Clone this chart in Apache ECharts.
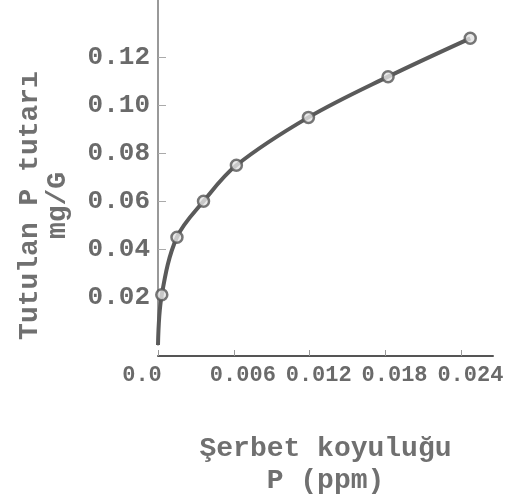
<!DOCTYPE html>
<html>
<head>
<meta charset="utf-8">
<script src="https://cdn.jsdelivr.net/npm/echarts@6/dist/echarts.min.js"></script>
<style>
html,body{margin:0;padding:0;background:#fff;}
#chart{width:509px;height:502px;}
</style>
</head>
<body>
<div id="chart"></div>
<script>
// Data
var concentration = [0.0003, 0.0015, 0.0036, 0.0062, 0.0119, 0.0182, 0.0247]; // P (ppm)
var retained = [0.021, 0.045, 0.060, 0.075, 0.095, 0.112, 0.128];            // mg/G
var curveX = [0, 0.0003, 0.0015, 0.0036, 0.0062, 0.0119, 0.0182, 0.0247];
var curveY = [0, 0.021, 0.045, 0.060, 0.075, 0.095, 0.112, 0.128];
var xTickValues = [0, 0.006, 0.012, 0.018, 0.024];
var xTickLabels = ['0.0', '0.006', '0.012', '0.018', '0.024'];
var yTickValues = [0.02, 0.04, 0.06, 0.08, 0.10, 0.12];
var yTickLabels = ['0.02', '0.04', '0.06', '0.08', '0.10', '0.12'];

var FONT = '"Liberation Mono", "DejaVu Sans Mono", monospace';
var TXT = '#6a6a6a';

var chart = echarts.init(document.getElementById('chart'), null, {renderer: 'canvas'});

var curveData = curveX.map(function (x, i) { return [x, curveY[i]]; });
var pointData = concentration.map(function (x, i) { return [x, retained[i]]; });

chart.setOption({
  backgroundColor: '#ffffff',
  animation: false,
  grid: {left: 158, right: 16, top: 0, bottom: 157},
  xAxis: {
    type: 'value',
    min: 0,
    max: 0.0265,
    interval: 0.006,
    offset: 11,
    name: 'Şerbet koyuluğu\nP (ppm)',
    nameLocation: 'middle',
    nameGap: 77,
    nameTextStyle: {fontFamily: FONT, fontSize: 28, fontWeight: 'bold', color: '#707070', lineHeight: 32},
    axisLine: {onZero: false, lineStyle: {color: '#555', width: 2}},
    axisTick: {show: true, inside: true, length: 6, lineStyle: {color: '#999', width: 1}, customValues: xTickValues},
    splitLine: {show: false},
    axisLabel: {
      customValues: xTickValues,
      margin: 8,
      fontFamily: FONT,
      fontSize: 22,
      fontWeight: 'bold',
      color: TXT,
      formatter: function (v) {
        var i = Math.round(v / 0.006);
        return i === 0 ? '{a|' + xTickLabels[i] + '}' : '{b|' + xTickLabels[i] + '}';
      },
      rich: {
        a: {fontFamily: FONT, fontSize: 22, fontWeight: 'bold', color: TXT, padding: [0, 32, 0, 0]},
        b: {fontFamily: FONT, fontSize: 22, fontWeight: 'bold', color: TXT, padding: [0, 0, 0, 18]}
      }
    }
  },
  yAxis: {
    type: 'value',
    min: 0,
    max: 0.144,
    interval: 0.02,
    name: 'Tutulan P tutarı\nmg/G',
    nameLocation: 'middle',
    nameRotate: 90,
    nameGap: 86,
    nameTextStyle: {fontFamily: FONT, fontSize: 28, fontWeight: 'bold', color: '#707070', lineHeight: 28, padding: [0, 66, 0, 0]},
    axisLine: {show: true, lineStyle: {color: '#777', width: 1.5}},
    axisTick: {show: true, inside: true, length: 8, lineStyle: {color: '#aaa', width: 1}, customValues: yTickValues},
    splitLine: {show: false},
    axisLabel: {
      customValues: yTickValues,
      margin: 8,
      fontFamily: FONT,
      fontSize: 26,
      fontWeight: 'bold',
      color: TXT,
      formatter: function (v) {
        var i = Math.round(v / 0.02) - 1;
        return yTickLabels[i];
      }
    }
  },
  series: [
    {
      type: 'line',
      data: curveData,
      smooth: 0.35,
      showSymbol: false,
      symbol: 'none',
      lineStyle: {color: '#5a5a5a', width: 4},
      z: 2
    },
    {
      type: 'scatter',
      data: pointData,
      symbol: 'circle',
      symbolSize: 11,
      itemStyle: {color: '#e4e4e4', borderColor: '#555', borderWidth: 2.5},
      z: 3
    }
  ]
});
</script>
</body>
</html>
